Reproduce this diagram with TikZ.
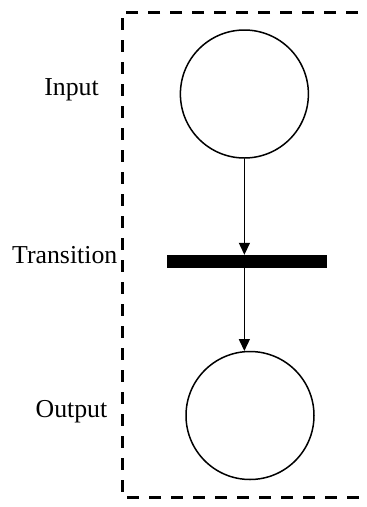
\documentclass[tikz,border=0pt]{standalone}
\usepackage{fontspec}
\setmainfont{Liberation Serif}
\usetikzlibrary{arrows.meta}
\begin{document}
\begin{tikzpicture}[x=1pt,y=-1pt,
  place/.style={draw,circle,line width=1.5pt,minimum size=128pt,inner sep=0pt},
  bar/.style={fill=black,draw=none,minimum width=160pt,minimum height=13pt,inner sep=0pt},
  lbl/.style={inner sep=0pt,anchor=base east,font=\fontsize{25.8}{30}\selectfont},
  arc/.style={line width=1.4pt,-{Triangle[length=12pt,width=11pt]}},
  frame/.style={line width=3pt,dash pattern=on 12pt off 10pt}]
\useasboundingbox (0,0) rectangle (367,507);
\begin{scope}
\clip (0,0) rectangle (367,507);
\draw[frame] (380,12) -- (122,12) -- (122,497) -- (380,497);
\end{scope}
\node[place] (in) at (244.4,94) {};
\node[bar] (tr) at (247,261.5) {};
\node[place] (out) at (250,415.5) {};
\draw[arc] (in.south) -- (in.south |- tr.north);
\draw[arc] (out.95 |- tr.south) -- (out.95);
\node[lbl] (lin) at (99,95) {Input};
\node[lbl] (ltr) at (117.5,263.5) {Transition};
\node[lbl] (lout) at (107.5,417.5) {Output};
\end{tikzpicture}
\end{document}
